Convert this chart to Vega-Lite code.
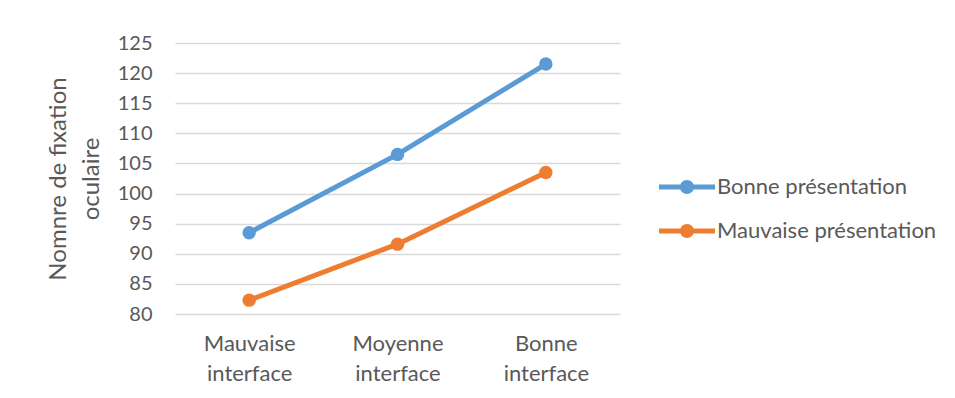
{
  "$schema": "https://vega.github.io/schema/vega-lite/v6.json",
  "width": 445,
  "height": 271,
  "autosize": {"type": "none"},
  "padding": {"left": 175, "top": 43, "right": 335, "bottom": 84},
  "background": "white",
  "config": {
    "font": "Lato",
    "view": {"stroke": null}
  },
  "data": {
    "values": [
      {"interface": "Mauvaise interface", "serie": "Bonne présentation", "valeur": 93.5},
      {"interface": "Moyenne interface", "serie": "Bonne présentation", "valeur": 106.5},
      {"interface": "Bonne interface", "serie": "Bonne présentation", "valeur": 121.5},
      {"interface": "Mauvaise interface", "serie": "Mauvaise présentation", "valeur": 82.3},
      {"interface": "Moyenne interface", "serie": "Mauvaise présentation", "valeur": 91.6},
      {"interface": "Bonne interface", "serie": "Mauvaise présentation", "valeur": 103.5}
    ]
  },
  "encoding": {
    "x": {
      "field": "interface",
      "type": "nominal",
      "sort": ["Mauvaise interface", "Moyenne interface", "Bonne interface"],
      "scale": {"type": "point", "padding": 0.5},
      "axis": {
        "title": null,
        "labelAngle": 0,
        "domain": false,
        "ticks": false,
        "grid": false,
        "labelExpr": "split(datum.label, ' ')",
        "labelFontSize": 22,
        "labelColor": "#595959",
        "labelLineHeight": 30,
        "labelPadding": 19
      }
    },
    "y": {
      "field": "valeur",
      "type": "quantitative",
      "scale": {"domain": [80, 125], "nice": false, "zero": false},
      "axis": {
        "values": [80, 85, 90, 95, 100, 105, 110, 115, 120, 125],
        "title": ["Nomnre de fixation", "oculaire"],
        "titleFontSize": 24,
        "titleFontWeight": "normal",
        "titleColor": "#595959",
        "titleLineHeight": 33,
        "titlePadding": 14,
        "domain": false,
        "ticks": false,
        "labelFontSize": 20,
        "labelColor": "#595959",
        "labelPadding": 23,
        "gridColor": "#D9D9D9",
        "gridWidth": 1.3
      }
    },
    "color": {
      "field": "serie",
      "type": "nominal",
      "scale": {"domain": ["Bonne présentation", "Mauvaise présentation"], "range": ["#5B9BD5", "#ED7D31"]},
      "legend": {
        "title": null,
        "orient": "none",
        "legendX": 484,
        "legendY": 122,
        "symbolType": "M-1,-0.09L1,-0.09L1,0.09L-1,0.09Z M-0.25,0A0.25,0.25 0 1,1 0.25,0A0.25,0.25 0 1,1 -0.25,0Z",
        "symbolSize": 3136,
        "symbolStrokeWidth": 0,
        "clipHeight": 44,
        "rowPadding": 0,
        "labelFontSize": 22,
        "labelLimit": 0,
        "labelColor": "#595959",
        "labelOffset": 2,
        "encode": {
          "symbols": {
            "update": {
              "fill": {"scale": "color", "field": "value"},
              "strokeWidth": {"value": 0},
              "opacity": {"value": 1}
            }
          }
        }
      }
    }
  },
  "layer": [
    {"mark": {"type": "line", "strokeWidth": 5}},
    {"mark": {"type": "circle", "size": 180, "opacity": 1}}
  ]
}
